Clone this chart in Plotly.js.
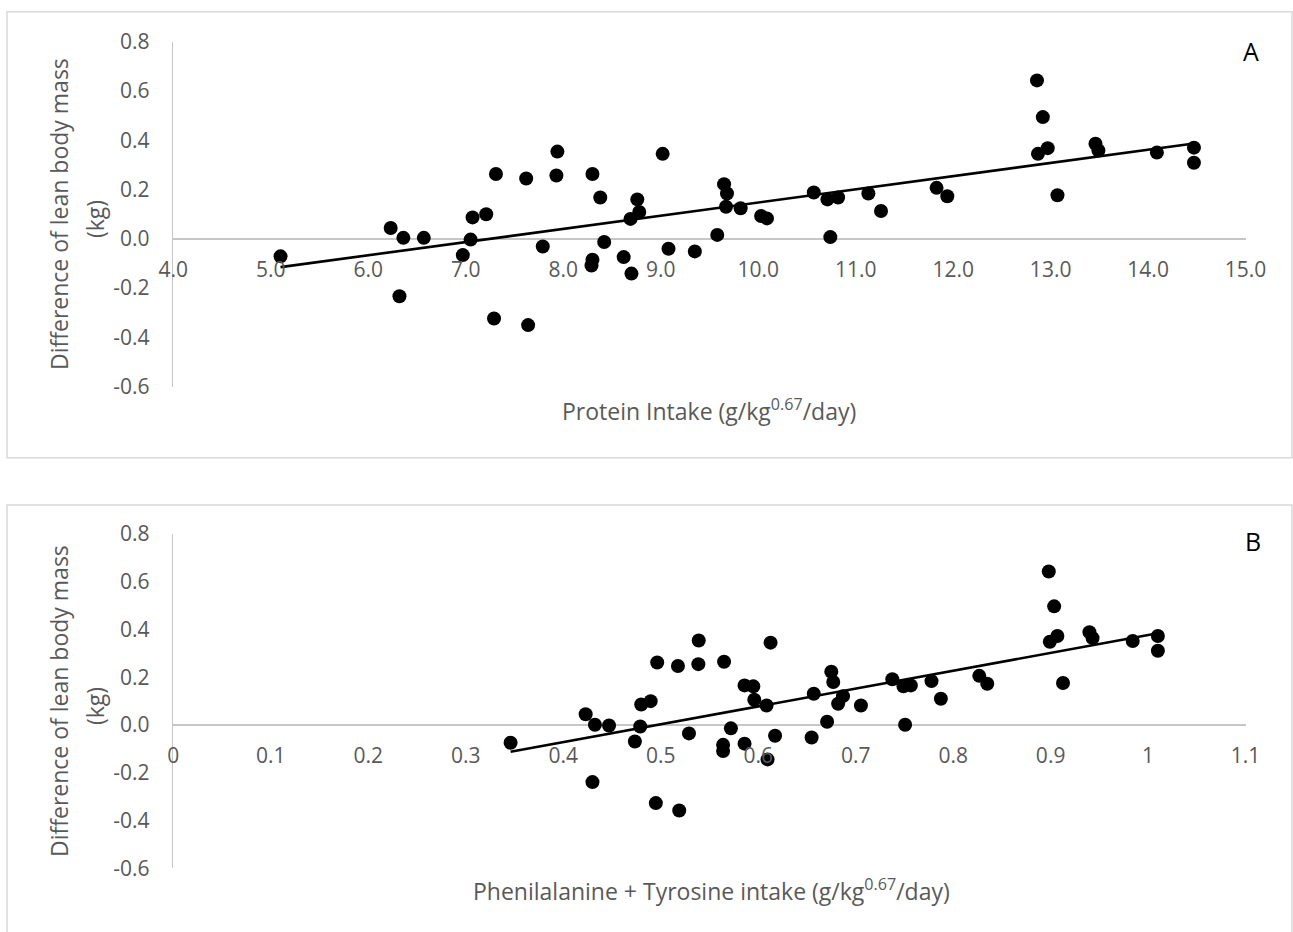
<!DOCTYPE html>
<html>
<head>
<meta charset="utf-8">
<script src="https://cdn.plot.ly/plotly-3.0.1.min.js"></script>
<style>html,body{margin:0;padding:0;background:#fff;}#chart{width:1293px;height:932px;}</style>
</head>
<body>
<div id="chart"></div>
<script>
// ---- Data ----
const proteinIntake = [5.10, 6.23, 6.36, 6.57, 6.32, 6.97, 7.05, 7.07, 7.21, 7.31, 7.29, 7.62, 7.64, 7.79, 7.94, 7.93, 8.30, 8.30, 8.29, 8.38, 8.42, 8.62, 8.70, 8.76, 8.78, 8.69,
  9.02, 9.08, 9.35, 9.58, 9.65, 9.68, 9.67, 9.82, 10.03, 10.09, 10.57, 10.71, 10.82, 10.74, 11.13, 11.26, 11.83, 11.94, 12.86, 12.92, 12.87, 12.97, 13.07, 13.46, 13.49, 14.09, 14.47, 14.47];
const lbmDiffA = [-0.071, 0.044, 0.004, 0.004, -0.233, -0.066, -0.003, 0.087, 0.100, 0.263, -0.323, 0.245, -0.350, -0.031, 0.354, 0.257, 0.263, -0.085, -0.108, 0.168, -0.013, -0.074, -0.141, 0.160, 0.109, 0.081,
  0.345, -0.040, -0.051, 0.016, 0.222, 0.184, 0.130, 0.124, 0.093, 0.083, 0.188, 0.160, 0.168, 0.007, 0.184, 0.113, 0.207, 0.173, 0.643, 0.494, 0.345, 0.368, 0.177, 0.386, 0.359, 0.350, 0.370, 0.309];

const pheTyrIntake = [0.346, 0.423, 0.4325, 0.447, 0.430, 0.4735, 0.479, 0.480, 0.4897, 0.4964, 0.495, 0.5177, 0.519, 0.529, 0.539, 0.5386, 0.565, 0.564, 0.564, 0.572, 0.586, 0.595, 0.596, 0.586, 0.6086, 0.6096, 0.6127, 0.6173, 0.6548, 0.657, 0.6707, 0.675, 0.677, 0.682, 0.687, 0.7054, 0.7376, 0.749, 0.7566, 0.7507, 0.7778, 0.7874, 0.8268, 0.835, 0.8981, 0.9036, 0.8992, 0.9069, 0.9127, 0.9398, 0.943, 0.9842, 1.01, 1.01];
const lbmDiffB = [-0.074, 0.045, 0.001, -0.002, -0.239, -0.069, -0.006, 0.086, 0.100, 0.262, -0.327, 0.247, -0.358, -0.035, 0.354, 0.255, 0.265, -0.083, -0.109, -0.014, 0.166, 0.162, 0.106, -0.078, 0.082, -0.144, 0.345, -0.045, -0.052, 0.131, 0.014, 0.223, 0.180, 0.089, 0.121, 0.082, 0.192, 0.162, 0.166, 0.001, 0.184, 0.110, 0.206, 0.173, 0.643, 0.497, 0.349, 0.373, 0.176, 0.389, 0.364, 0.352, 0.373, 0.311];

const yTickVals = [-0.6, -0.4, -0.2, 0.0, 0.2, 0.4, 0.6, 0.8];
const yTickText = ['-0.6', '-0.4', '-0.2', '0.0', '0.2', '0.4', '0.6', '0.8'];
const xTickValsA = [4, 5, 6, 7, 8, 9, 10, 11, 12, 13, 14, 15];
const xTickTextA = ['4.0', '5.0', '6.0', '7.0', '8.0', '9.0', '10.0', '11.0', '12.0', '13.0', '14.0', '15.0'];
const xTickValsB = [0, 0.1, 0.2, 0.3, 0.4, 0.5, 0.6, 0.7, 0.8, 0.9, 1.0, 1.1];
const xTickTextB = ['0', '0.1', '0.2', '0.3', '0.4', '0.5', '0.6', '0.7', '0.8', '0.9', '1', '1.1'];

const yTitleLine1 = 'Difference of lean body mass';
const yTitleLine2 = '(kg)';
const xTitleA = 'Protein Intake (g/kg<sup>0.67</sup>/day)';
const xTitleB = 'Phenilalanine + Tyrosine intake (g/kg<sup>0.67</sup>/day)';

// ---- Linear trend lines (least squares, like the spreadsheet trendline) ----
function fit(xs, ys) {
  const n = xs.length;
  let sx = 0, sy = 0, sxx = 0, sxy = 0;
  for (let i = 0; i < n; i++) { sx += xs[i]; sy += ys[i]; sxx += xs[i] * xs[i]; sxy += xs[i] * ys[i]; }
  const b = (n * sxy - sx * sy) / (n * sxx - sx * sx);
  const a = (sy - b * sx) / n;
  const x0 = Math.min(...xs), x1 = Math.max(...xs);
  return { x: [x0, x1], y: [a + b * x0, a + b * x1] };
}
const trendA = fit(proteinIntake, lbmDiffA);
const trendB = fit(pheTyrIntake, lbmDiffB);

// ---- Layout helpers (pixel -> paper) ----
const W = 1293, H = 932;
const px = v => v / W;
const py = v => (H - v) / H;

const gray = '#595959';
const axisGray = '#c6c6c6';
const FONT = 'Open Sans, Noto Sans, sans-serif';

const marker = { size: 14, color: '#000000' };
const traces = [
  { x: proteinIntake, y: lbmDiffA, type: 'scatter', mode: 'markers', marker: marker, xaxis: 'x', yaxis: 'y' },
  { x: trendA.x, y: trendA.y, type: 'scatter', mode: 'lines', line: { color: '#000000', width: 2.6 }, xaxis: 'x', yaxis: 'y' },
  { x: pheTyrIntake, y: lbmDiffB, type: 'scatter', mode: 'markers', marker: marker, xaxis: 'x2', yaxis: 'y2' },
  { x: trendB.x, y: trendB.y, type: 'scatter', mode: 'lines', line: { color: '#000000', width: 2.6 }, xaxis: 'x2', yaxis: 'y2' }
];

const tickFont = { family: FONT, size: 21, color: gray };

function yAxis(domTopPx, domBotPx, anchor) {
  return {
    domain: [py(domBotPx), py(domTopPx)], anchor: anchor,
    range: [-0.6, 0.8], tickvals: yTickVals, ticktext: yTickText,
    showgrid: false, showline: true, linecolor: axisGray, linewidth: 1.5,
    zeroline: true, zerolinecolor: axisGray, zerolinewidth: 1.5,
    ticks: '', ticklabelstandoff: 18, tickfont: tickFont, fixedrange: true
  };
}
function xAxis(range, vals, text, zeroPx) {
  return {
    domain: [px(173.3), px(1245.6)], anchor: 'free', position: py(zeroPx),
    range: range, tickvals: vals, ticktext: text,
    showgrid: false, showline: false, zeroline: false,
    ticks: '', ticklabelstandoff: 16, tickfont: tickFont, fixedrange: true
  };
}

const ann = (x, y, text, opts) => Object.assign({
  xref: 'paper', yref: 'paper', x: px(x), y: py(y), text: text, showarrow: false,
  xanchor: 'center', yanchor: 'middle', font: { family: FONT, size: 23, color: gray }
}, opts || {});

const yTitleFont = { family: FONT, size: 23, color: gray };
const panelFont = { family: FONT, size: 25, color: '#000000' };

const layout = {
  width: W, height: H, autosize: false,
  margin: { l: 0, r: 0, t: 0, b: 0 },
  paper_bgcolor: '#ffffff', plot_bgcolor: 'rgba(0,0,0,0)',
  showlegend: false, hovermode: false,
  xaxis: xAxis([4, 15], xTickValsA, xTickTextA, 238.8),
  yaxis: yAxis(41.7, 386.7, 'x'),
  xaxis2: xAxis([0, 1.1], xTickValsB, xTickTextB, 725),
  yaxis2: yAxis(534, 868.3, 'x2'),
  shapes: [
    { type: 'rect', xref: 'paper', yref: 'paper', x0: px(7), x1: px(1292), y0: py(457.7), y1: py(11.7), line: { color: '#d9d9d9', width: 1.5 }, layer: 'below' },
    { type: 'rect', xref: 'paper', yref: 'paper', x0: px(7), x1: px(1292), y0: py(940), y1: py(505), line: { color: '#d9d9d9', width: 1.5 }, layer: 'below' }
  ],
  annotations: [
    ann(709, 410, xTitleA),
    ann(711, 890, xTitleB),
    ann(59, 214, yTitleLine1, { textangle: -90, font: yTitleFont }),
    ann(95, 219, yTitleLine2, { textangle: -90, font: yTitleFont }),
    ann(59, 701, yTitleLine1, { textangle: -90, font: yTitleFont }),
    ann(95, 706, yTitleLine2, { textangle: -90, font: yTitleFont }),
    ann(1251, 51, 'A', { font: panelFont }),
    ann(1253, 541, 'B', { font: panelFont })
  ]
};

Plotly.newPlot('chart', traces, layout, { staticPlot: true, displayModeBar: false });
</script>
</body>
</html>
